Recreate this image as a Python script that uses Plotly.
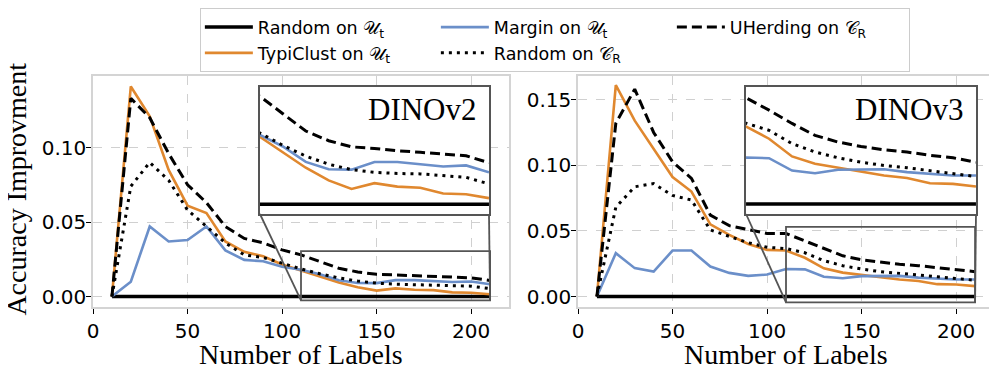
import plotly.graph_objects as go

# ------------------------------------------
# data
# ------------------------------------------
labels = [10, 20, 30, 40, 50, 60, 70, 80, 90, 100, 110,
          120, 130, 140, 150, 160, 170, 180, 190, 200, 210]

random_u = [0.0] * 21

# DINOv2
typiclust_v2 = [0, 0.141, 0.121, 0.085, 0.061, 0.056, 0.037, 0.030, 0.027, 0.0215, 0.0175,
                0.0135, 0.0095, 0.0062, 0.0040, 0.0055, 0.0046, 0.0043, 0.0028, 0.0026, 0.0016]
margin_v2 = [0, 0.010, 0.047, 0.037, 0.038, 0.047, 0.031, 0.0246, 0.0237, 0.020, 0.018,
             0.015, 0.011, 0.0091, 0.0090, 0.011, 0.011, 0.0104, 0.0098, 0.0101, 0.0083]
random_cr_v2 = [0, 0.074, 0.090, 0.078, 0.058, 0.047, 0.036, 0.028, 0.0262, 0.0224, 0.0185,
                0.0153, 0.0125, 0.0104, 0.0090, 0.0083, 0.0080, 0.0079, 0.0074, 0.0070, 0.0053]
uherding_v2 = [0, 0.133, 0.120, 0.096, 0.075, 0.063, 0.047, 0.039, 0.036, 0.0313, 0.028,
               0.0235, 0.019, 0.0165, 0.0149, 0.0145, 0.0139, 0.0135, 0.0131, 0.0126, 0.0108]

# DINOv3
typiclust_v3 = [0, 0.161, 0.134, 0.113, 0.091, 0.080, 0.055, 0.047, 0.040, 0.0355, 0.035,
                0.0295, 0.0215, 0.0182, 0.0164, 0.0148, 0.0129, 0.0118, 0.0094, 0.0091, 0.0079]
margin_v3 = [0, 0.033, 0.0216, 0.019, 0.035, 0.035, 0.0228, 0.018, 0.0157, 0.0167, 0.021,
             0.0207, 0.0151, 0.0139, 0.0155, 0.0157, 0.0157, 0.0144, 0.0136, 0.0129, 0.0129]
random_cr_v3 = [0, 0.068, 0.0836, 0.086, 0.077, 0.0735, 0.0507, 0.046, 0.041, 0.0375, 0.0365,
                0.0333, 0.0273, 0.0235, 0.0209, 0.0189, 0.0174, 0.0164, 0.0151, 0.0136, 0.0124]
uherding_v3 = [0, 0.132, 0.158, 0.125, 0.1026, 0.090, 0.062, 0.054, 0.051, 0.048, 0.048,
               0.0424, 0.0364, 0.031, 0.028, 0.026, 0.0245, 0.0235, 0.022, 0.0209, 0.0189]

names = ["Random on 𝒰<sub>t</sub>", "TypiClust on 𝒰<sub>t</sub>", "Margin on 𝒰<sub>t</sub>",
         "Random on 𝒞<sub>R</sub>", "UHerding on 𝒞<sub>R</sub>"]
# legend columns like matplotlib ncol=3 (column-wise fill)
groups = ["c1", "c1", "c2", "c2", "c3"]
styles = [
    dict(color="black", width=3.5, dash="solid"),
    dict(color="#e0882f", width=2.6, dash="solid"),
    dict(color="#6b8fc9", width=2.6, dash="solid"),
    dict(color="black", width=3, dash="3px,5px"),
    dict(color="black", width=3, dash="10px,5px"),
]

panels = [
    dict(series=[random_u, typiclust_v2, margin_v2, random_cr_v2, uherding_v2],
         yrange=[-0.007, 0.148], yticks=[0, 0.05, 0.10], zoom_y=[-0.0025, 0.0305],
         name="DINOv2"),
    dict(series=[random_u, typiclust_v3, margin_v3, random_cr_v3, uherding_v3],
         yrange=[-0.008, 0.168], yticks=[0, 0.05, 0.10, 0.15], zoom_y=[-0.0045, 0.053],
         name="DINOv3"),
]

x_range = [0, 220]
zoom_x = [110, 210]
main_dom = [[0, 416 / 901], [485 / 901, 1]]
inset_dom_x = [[0.1853, 0.4395], [0.7248, 0.98]]
inset_dom_y = [0.4026, 0.9537]

tick_font = dict(family="DejaVu Sans", size=20, color="black")
serif = "Liberation Serif"
title_font = dict(family=serif, size=28, color="black")

fig = go.Figure()
layout = {}

for p, panel in enumerate(panels):
    main_ax = str(p + 1) if p > 0 else ""
    ins_ax = str(p + 3)
    for i, ys in enumerate(panel["series"]):
        for ax in (main_ax, ins_ax):
            fig.add_trace(go.Scatter(
                x=labels, y=ys, mode="lines", name=names[i],
                line=styles[i], legendgroup=groups[i],
                showlegend=(p == 0 and ax == main_ax),
                xaxis="x" + ax, yaxis="y" + ax,
            ))

    layout["xaxis" + main_ax] = dict(
        domain=main_dom[p], range=x_range, anchor="y" + main_ax, automargin=False,
        tickvals=[0, 50, 100, 150, 200], tickfont=tick_font,
        ticks="outside", ticklen=5, tickcolor="black",
        showline=True, mirror=True, linecolor="#d4d4d4", linewidth=1.5,
        showgrid=True, gridcolor="#d0d0d0", griddash="dash", gridwidth=0.8,
        zeroline=False,
    )
    layout["yaxis" + main_ax] = dict(
        domain=[0, 1], range=panel["yrange"], anchor="x" + main_ax, automargin=False,
        tickvals=panel["yticks"], tickformat=".2f", tickfont=tick_font,
        ticks="outside", ticklen=5, tickcolor="black", ticklabelstandoff=-4,
        showline=True, mirror=True, linecolor="#d4d4d4", linewidth=1.5,
        showgrid=True, gridcolor="#d0d0d0", griddash="dash", gridwidth=0.8,
        zeroline=False,
    )
    layout["xaxis" + ins_ax] = dict(
        domain=inset_dom_x[p], range=zoom_x, anchor="y" + ins_ax, automargin=False,
        showticklabels=False, ticks="", showgrid=False, zeroline=False,
        showline=True, mirror=True, linecolor="#555555", linewidth=1.8,
    )
    layout["yaxis" + ins_ax] = dict(
        domain=inset_dom_y, range=panel["zoom_y"], anchor="x" + ins_ax, automargin=False,
        showticklabels=False, ticks="", showgrid=False, zeroline=False,
        showline=True, mirror=True, linecolor="#555555", linewidth=1.8,
    )

fig.update_layout(**layout)


def to_paper(val, rng, dom):
    return dom[0] + (val - rng[0]) / (rng[1] - rng[0]) * (dom[1] - dom[0])


shapes = []
annotations = []
for p, panel in enumerate(panels):
    main_ax = str(p + 1) if p > 0 else ""
    ins_ax = str(p + 3)
    zy = panel["zoom_y"]
    # white background of the inset, drawn under its own traces
    shapes.append(dict(type="rect", xref="x" + ins_ax + " domain", yref="y" + ins_ax + " domain",
                       x0=0, x1=1, y0=0, y1=1, fillcolor="white", line=dict(width=0),
                       layer="below"))
    # zoom rectangle on the main axes
    shapes.append(dict(type="rect", xref="x" + main_ax, yref="y" + main_ax,
                       x0=zoom_x[0], x1=zoom_x[1], y0=zy[0], y1=zy[1],
                       line=dict(color="#555555", width=1.8), layer="above"))
    # connector lines (lower corners)
    for k in (0, 1):
        shapes.append(dict(
            type="line", xref="paper", yref="paper", layer="above",
            x0=inset_dom_x[p][k], y0=inset_dom_y[0],
            x1=to_paper(zoom_x[k], x_range, main_dom[p]),
            y1=to_paper(zy[0], panel["yrange"], [0, 1]),
            line=dict(color="#555555", width=1.8),
        ))
    annotations.append(dict(
        text=panel["name"], xref="x" + ins_ax + " domain", yref="y" + ins_ax + " domain",
        x=0.955, y=0.975, xanchor="right", yanchor="top", showarrow=False,
        font=dict(family=serif, size=31, color="black"),
    ))
    # x axis title
    annotations.append(dict(
        text="Number of Labels", xref="paper", yref="paper",
        x=sum(main_dom[p]) / 2, y=-0.2035, xanchor="center", yanchor="middle",
        showarrow=False, font=title_font,
    ))

# y axis title
annotations.append(dict(
    text="Accuracy Improvment", xref="paper", yref="paper", textangle=-90,
    x=-0.085, y=0.51, xanchor="center", yanchor="middle",
    showarrow=False, font=title_font,
))

# the page body adds an 8px margin, so the figure is 8px smaller than the window
fig.update_layout(
    shapes=shapes,
    annotations=annotations,
    width=989, height=363,
    margin=dict(l=85, r=3, t=68, b=64, autoexpand=False),
    paper_bgcolor="white", plot_bgcolor="white",
    font=dict(family="DejaVu Sans", color="black"),
    showlegend=True,
    legend=dict(
        orientation="h", xref="container", yref="container",
        x=0.194, xanchor="left", y=1.0, yanchor="top",
        font=dict(family="DejaVu Sans", size=17.5, color="black"),
        bgcolor="white", bordercolor="#cccccc", borderwidth=1.2,
        itemwidth=48, entrywidth=173, entrywidthmode="pixels",
        tracegroupgap=0, traceorder="grouped",
    ),
)

fig.write_html("out.html")
